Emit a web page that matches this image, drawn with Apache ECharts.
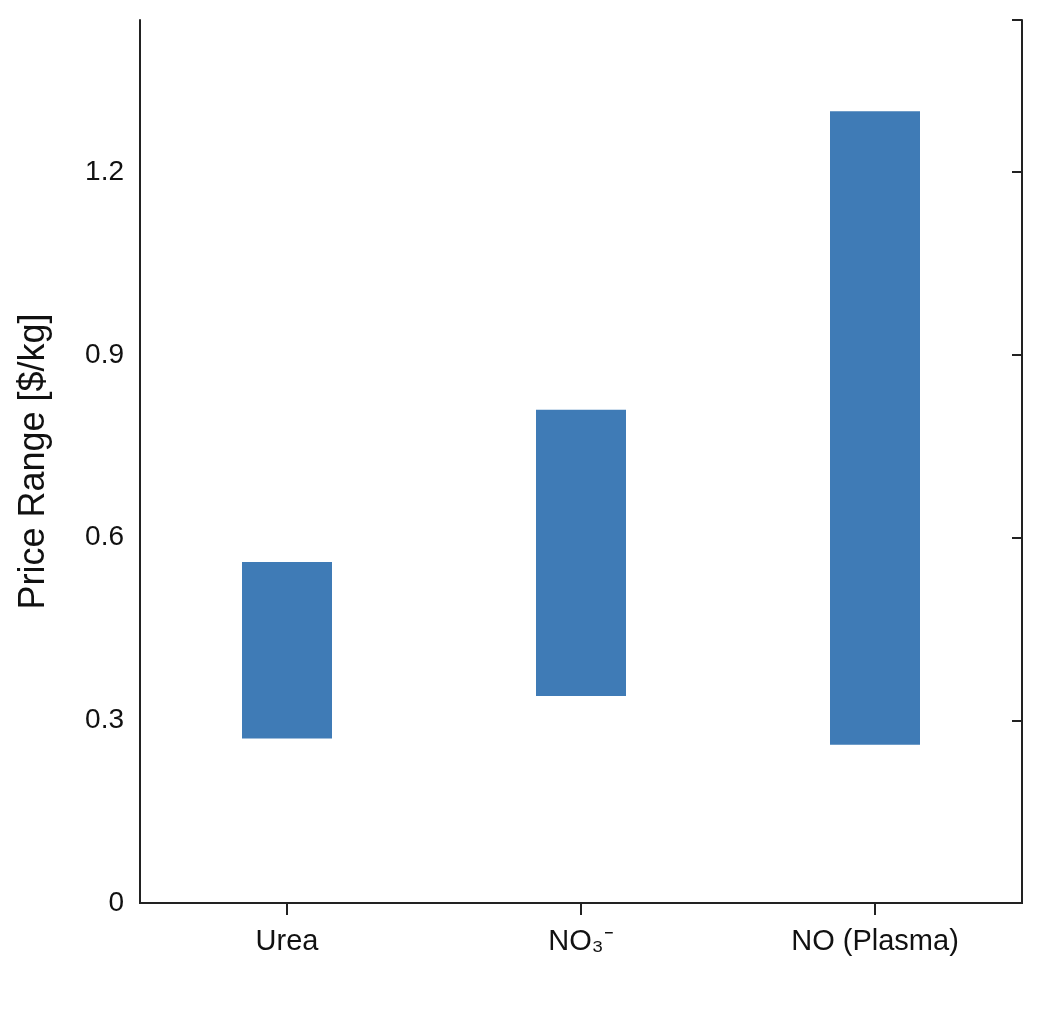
<!DOCTYPE html>
<html>
<head>
<meta charset="utf-8">
<script src="https://cdn.jsdelivr.net/npm/echarts@6/dist/echarts.min.js"></script>
<style>html,body{margin:0;padding:0;background:#fff}#chart{width:1058px;height:1015px}</style>
</head>
<body>
<div id="chart"></div>
<script>
"use strict";

var categories = ['Urea', 'NO₃⁻', 'NO (Plasma)'];
var lowValues = [0.27, 0.34, 0.26];
var highValues = [0.56, 0.81, 1.30];
var yTicks = [0, 0.3, 0.6, 0.9, 1.2];

var spans = highValues.map(function (h, i) { return +(h - lowValues[i]).toFixed(3); });
var font = 'Liberation Sans, Arial, sans-serif';
var lineStyle = { color: '#222', width: 2 };

var chart = echarts.init(document.getElementById('chart'));
chart.setOption({
	animation: false,
	grid: { left: 140, right: 36, top: 20, bottom: 112 },
	xAxis: [{
		type: 'category',
		data: categories,
		position: 'bottom',
		axisLine: { lineStyle: lineStyle },
		axisTick: { alignWithLabel: true, length: 10, lineStyle: lineStyle },
		axisLabel: { fontSize: 29, color: '#111', fontFamily: font, margin: 24 }
	}, {
		type: 'category',
		data: categories,
		position: 'top',
		axisLine: { show: true, lineStyle: lineStyle },
		axisTick: { show: true, alignWithLabel: true, inside: true, length: 12, lineStyle: lineStyle },
		axisLabel: { show: true, color: 'transparent' }
	}],
	yAxis: [{
		type: 'value',
		min: 0,
		max: 1.45,
		interval: 0.3,
		position: 'left',
		name: 'Price Range [$/kg]',
		nameLocation: 'middle',
		nameGap: 88,
		nameTextStyle: { fontSize: 36, color: '#111', fontFamily: font },
		axisLine: { show: true, lineStyle: lineStyle },
		axisTick: { show: false },
		axisLabel: {
			fontSize: 28, color: '#111', fontFamily: font, margin: 16,
			formatter: function (v) { return yTicks.indexOf(+v.toFixed(1)) >= 0 ? (v === 0 ? '0' : v.toFixed(1)) : ''; }
		},
		splitLine: { show: false }
	}, {
		type: 'value',
		min: 0,
		max: 1.45,
		interval: 0.3,
		position: 'right',
		axisLine: { show: true, lineStyle: lineStyle },
		axisTick: { show: true, inside: true, length: 10, lineStyle: lineStyle },
		axisLabel: { show: false },
		splitLine: { show: false }
	}],
	series: [{
		type: 'bar',
		stack: 'range',
		data: lowValues,
		barWidth: 90,
		itemStyle: { color: 'transparent' }
	}, {
		type: 'bar',
		stack: 'range',
		data: spans,
		barWidth: 90,
		itemStyle: { color: '#3f7bb6' }
	}]
});
</script>
</body>
</html>
